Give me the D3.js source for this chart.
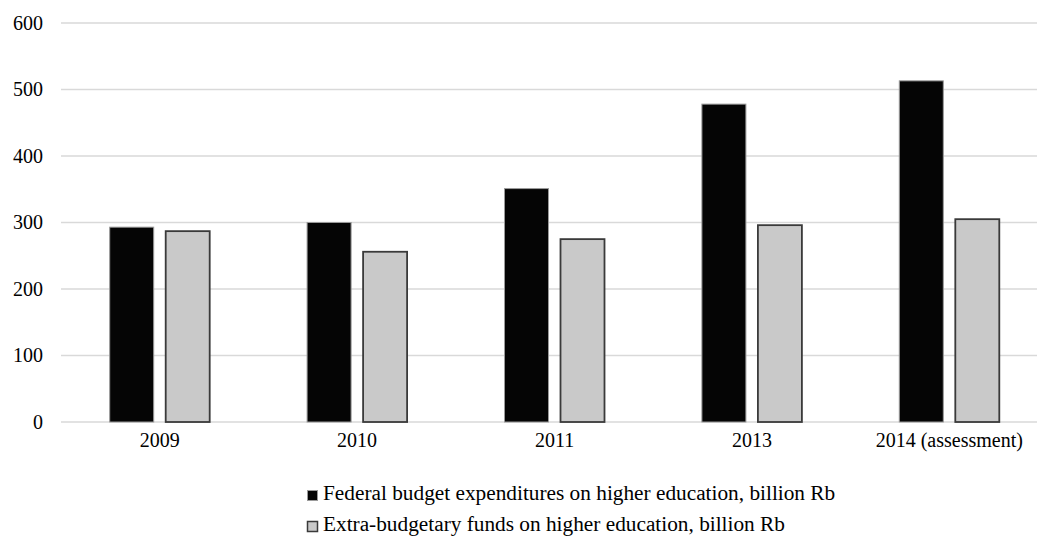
<!DOCTYPE html>
<html>
<head>
<meta charset="utf-8">
<script src="https://cdn.jsdelivr.net/npm/d3@7"></script>
<style>
  body { margin: 0; background: #fff; }
  svg { display: block; }
  svg text { font-family: "Times New Roman", "Liberation Serif", Times, "Nimbus Roman", "DejaVu Serif", serif !important; }
</style>
</head>
<body>
<svg id="chart" width="1037" height="539"></svg>
<script>
// chart data
const years = ["2009", "2010", "2011", "2013", "2014 (assessment)"];
const federal = [293, 300, 351, 478, 513];
const extraBudget = [287, 256, 275, 296, 305];
const seriesNames = [
    "Federal budget expenditures on higher education, billion Rb",
    "Extra-budgetary funds on higher education, billion Rb"
];
const yTicks = [0, 100, 200, 300, 400, 500, 600];

const dims = {
    width: 1037, height: 539,
    margin: { top: 23, bottom: 117, left: 61, right: -11 }
};

const svg = d3.select("#chart");
const g = svg.append("g");

const x = d3.scaleBand()
    .domain(years)
    .range([dims.margin.left, dims.width - dims.margin.right]);

const y = d3.scaleLinear()
    .domain([0, 600])
    .range([dims.height - dims.margin.bottom, dims.margin.top]);

// gridlines
g.selectAll(".grid")
    .data(yTicks)
    .join("line")
    .attr("class", "grid")
    .attr("x1", dims.margin.left)
    .attr("x2", dims.width)
    .attr("y1", d => y(d))
    .attr("y2", d => y(d))
    .attr("stroke", "#d9d9d9")
    .attr("stroke-width", 1.5);

// y axis labels
const yAxis = g.append("g")
    .attr("transform", "translate(" + (dims.margin.left - 18) + ",0)")
    .call(d3.axisLeft(y).tickValues(yTicks).tickSize(0).tickPadding(0));
yAxis.select(".domain").remove();
yAxis.selectAll("text")
    .attr("font-size", "20px")
    .attr("fill", "#000");

// bars
const barW = 44, gap = 12;
const sub = d3.scaleOrdinal().domain([0, 1])
    .range([-(gap / 2) - barW, gap / 2]);

const data = years.map((yr, i) => ({ yr, vals: [federal[i], extraBudget[i]] }));

const grp = g.selectAll(".cat")
    .data(data)
    .join("g")
    .attr("transform", d => "translate(" + (x(d.yr) + x.bandwidth() / 2) + ",0)");

grp.selectAll("rect")
    .data(d => d.vals.map((v, k) => ({ v, k })))
    .join("rect")
    .attr("x", d => sub(d.k))
    .attr("width", barW)
    .attr("y", d => y(d.v))
    .attr("height", d => y(0) - y(d.v))
    .attr("fill", d => d.k === 0 ? "#050505" : "#c9c9c9")
    .attr("stroke", d => d.k === 0 ? "#9a9a9a" : "#3a3a3a")
    .attr("stroke-width", d => d.k === 0 ? 1 : 1.8);

// x axis labels
const xAxis = g.append("g")
    .attr("transform", "translate(0," + (y(0) + 11) + ")")
    .call(d3.axisBottom(x).tickSize(0).tickPadding(0));
xAxis.select(".domain").remove();
xAxis.selectAll("text")
    .attr("font-size", "20px")
    .attr("fill", "#000")
    .attr("dy", "0.71em");

// legend
const legend = g.append("g").attr("transform", "translate(307,0)");
const legendRows = legend.selectAll(".leg")
    .data(seriesNames)
    .join("g")
    .attr("transform", (d, i) => "translate(0," + (500 + i * 31) + ")");

legendRows.append("rect")
    .attr("x", 0.5)
    .attr("y", -9.5)
    .attr("width", 10)
    .attr("height", 10)
    .attr("fill", (d, i) => i === 0 ? "#050505" : "#c9c9c9")
    .attr("stroke", (d, i) => i === 0 ? "#9a9a9a" : "#3a3a3a")
    .attr("stroke-width", (d, i) => i === 0 ? 1 : 1.5);

legendRows.append("text")
    .attr("x", 16)
    .attr("y", 0)
    .attr("font-size", "21.3px")
    .attr("fill", "#000")
    .text(d => d);
</script>
</body>
</html>
